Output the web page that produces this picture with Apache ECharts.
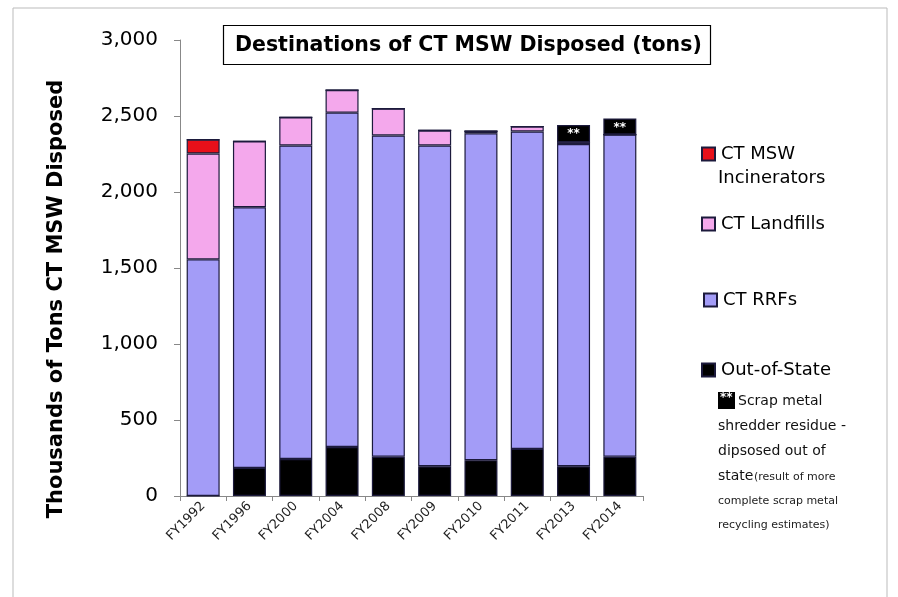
<!DOCTYPE html>
<html>
<head>
<meta charset="utf-8">
<script src="https://cdn.jsdelivr.net/npm/echarts@6/dist/echarts.min.js"></script>
<style>
  html, body { margin: 0; padding: 0; background: #fff; }
  #chart { width: 898px; height: 597px; }
</style>
</head>
<body>
<div id="chart"></div>
<script>
var years = ["FY1992", "FY1996", "FY2000", "FY2004", "FY2008", "FY2009", "FY2010", "FY2011", "FY2013", "FY2014"];
// thousands of tons
var outOfState = [0, 185, 243, 322, 258, 196, 236, 310, 196, 258];
var rrfs = [1557, 1715, 2063, 2200, 2114, 2110, 2150, 2088, 2120, 2120];
var landfills = [696, 433, 185, 148, 177, 99, 15, 33, 12, 0];
var incinerators = [92, 0, 0, 0, 0, 0, 0, 0, 0, 0];
var scrapResidue = [0, 0, 0, 0, 0, 0, 0, 0, 112, 106];
var yTicks = [0, 500, 1000, 1500, 2000, 2500, 3000];

var chart = echarts.init(document.getElementById("chart"));
var font = "'DejaVu Sans', sans-serif";
var edge = "#1c1a3c";

function barSeries(name, data, color) {
  return {
    name: name,
    type: "bar",
    stack: "total",
    barWidth: 33,
    data: data,
    itemStyle: { color: color, borderColor: edge, borderWidth: 1.2 },
    emphasis: { disabled: true }
  };
}

var scrap = barSeries("Scrap metal shredder residue", scrapResidue, "#000");
scrap.label = {
  show: true,
  position: "insideTop",
  distance: 3,
  color: "#fff",
  fontWeight: "bold",
  fontSize: 12,
  fontFamily: font,
  formatter: function(p) { return p.value > 0 ? "**" : ""; }
};

function legendAt(name, top, left, fmt) {
  var lg = {
    data: [name], left: left, top: top,
    icon: "rect", itemWidth: 13, itemHeight: 13, itemGap: 4,
    textStyle: { fontSize: 18, color: "#000", fontFamily: font, padding: [0, 0, 0, 1] }
  };
  if (fmt) lg.formatter = fmt;
  return lg;
}

var option = {
  backgroundColor: "#fff",
  animation: false,
  textStyle: { fontFamily: font },
  grid: { left: 180, right: 255, top: 40, bottom: 101 },
  title: {
    text: "Destinations of CT MSW Disposed (tons)",
    left: 223,
    top: 25,
    padding: [10, 9, 9, 12],
    borderColor: "#000",
    borderWidth: 1.2,
    textStyle: { fontFamily: font, fontSize: 20.5, fontWeight: "bold", color: "#000" }
  },
  legend: [
    legendAt("CT MSW Incinerators", 140, 696, function() { return "CT MSW"; }),
    legendAt("CT Landfills", 210, 696),
    legendAt("CT RRFs", 286, 698),
    legendAt("Out-of-State", 356, 696)
  ],
  xAxis: {
    type: "category",
    data: years,
    axisLine: { lineStyle: { color: "#888" } },
    axisTick: { show: true, length: 5, lineStyle: { color: "#888" } },
    axisLabel: { rotate: 45, fontSize: 13, color: "#222", fontFamily: font, margin: 8 }
  },
  yAxis: {
    type: "value",
    min: yTicks[0],
    max: yTicks[yTicks.length - 1],
    interval: 500,
    splitLine: { show: false },
    axisLine: { show: true, lineStyle: { color: "#888" } },
    axisTick: { show: true, length: 6, lineStyle: { color: "#888" } },
    axisLabel: {
      fontSize: 20, color: "#000", fontFamily: font, margin: 22,
      formatter: function(v) { return v.toLocaleString("en-US"); }
    }
  },
  graphic: [
    { type: "rect", shape: { x: 13, y: 8, width: 874, height: 600 },
      style: { fill: null, stroke: "#bbb", lineWidth: 1 }, silent: true },
    { type: "text", x: 57, y: 299, rotation: Math.PI / 2,
      style: { text: "Thousands of Tons CT MSW Disposed", fontSize: 21, fontWeight: "bold",
        fill: "#000", fontFamily: font, align: "center", verticalAlign: "middle" } },
    { type: "text", x: 718, y: 169,
      style: { text: "Incinerators", fontSize: 18, fill: "#000", fontFamily: font } },
    { type: "rect", shape: { x: 718, y: 392, width: 17, height: 17 }, style: { fill: "#000" } },
    { type: "text", x: 720, y: 392,
      style: { text: "**", fontSize: 12, fontWeight: "bold", fill: "#fff", fontFamily: font } },
    { type: "text", x: 738, y: 394,
      style: { text: "Scrap metal", fontSize: 14, fill: "#111", fontFamily: font } },
    { type: "text", x: 718, y: 419,
      style: { text: "shredder residue -", fontSize: 14, fill: "#111", fontFamily: font } },
    { type: "text", x: 718, y: 444,
      style: { text: "dipsosed out of", fontSize: 14, fill: "#111", fontFamily: font } },
    { type: "text", x: 718, y: 469,
      style: { text: "state", fontSize: 14, fill: "#111", fontFamily: font } },
    { type: "text", x: 754, y: 472,
      style: { text: "(result of more", fontSize: 11, fill: "#222", fontFamily: font } },
    { type: "text", x: 718, y: 496,
      style: { text: "complete scrap metal", fontSize: 11, fill: "#222", fontFamily: font } },
    { type: "text", x: 718, y: 520,
      style: { text: "recycling estimates)", fontSize: 11, fill: "#222", fontFamily: font } }
  ],
  series: [
    barSeries("Out-of-State", outOfState, "#000"),
    barSeries("CT RRFs", rrfs, "#a39cf7"),
    barSeries("CT Landfills", landfills, "#f4a8ec"),
    barSeries("CT MSW Incinerators", incinerators, "#e8101a"),
    scrap
  ]
};

chart.setOption(option);
window.addEventListener("resize", chart.resize);
</script>
</body>
</html>
